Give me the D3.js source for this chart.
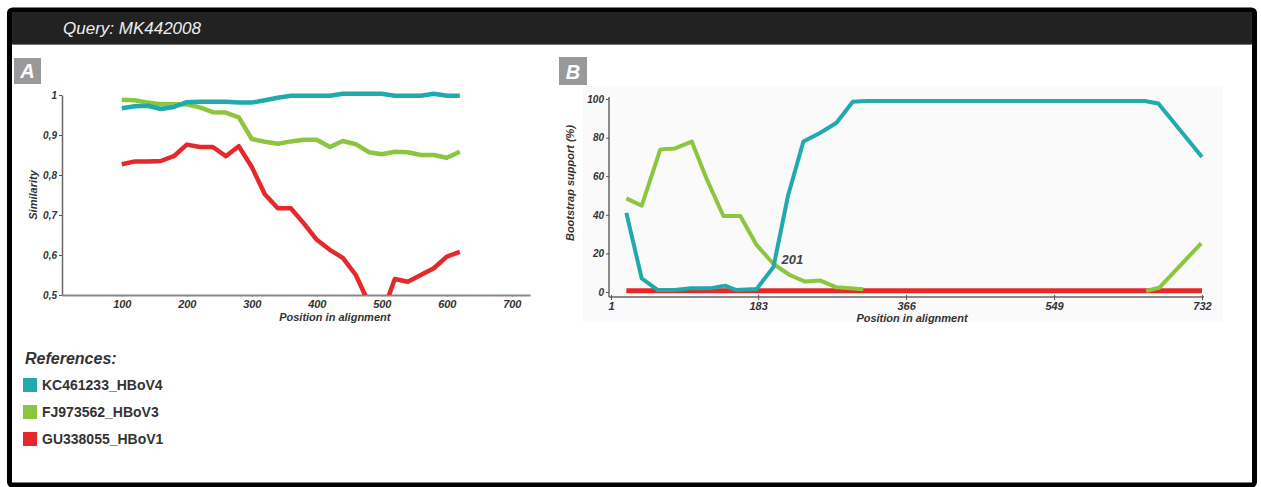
<!DOCTYPE html>
<html>
<head>
<meta charset="utf-8">
<script src="https://cdn.jsdelivr.net/npm/d3@7"></script>
<style>
  html, body { margin: 0; padding: 0; background: #fff; }
  svg { display: block; }
  text { font-family: "Liberation Sans", Arial, sans-serif; }
</style>
</head>
<body>
<svg id="fig" width="1261" height="487"></svg>
<script>
// ---- Panel A: similarity plot ----
const simPositions = [100, 120, 140, 160, 180, 200, 220, 240, 260, 280, 300, 320, 340, 360,
                      380, 400, 420, 440, 460, 480, 500, 520, 540, 560, 580, 600, 620];
const simHBoV4 = [0.967, 0.972, 0.973, 0.965, 0.970, 0.982, 0.983, 0.983, 0.983, 0.981, 0.981,
                  0.987, 0.993, 0.998, 0.998, 0.998, 0.998, 1.003, 1.003, 1.003, 1.003, 0.998,
                  0.998, 0.998, 1.003, 0.998, 0.998];
const simHBoV3 = [0.988, 0.987, 0.981, 0.977, 0.977, 0.977, 0.969, 0.957, 0.956, 0.944, 0.890,
                  0.883, 0.878, 0.884, 0.888, 0.888, 0.870, 0.885, 0.877, 0.857, 0.852, 0.858,
                  0.857, 0.850, 0.850, 0.843, 0.858];
const simHBoV1 = [0.827, 0.834, 0.834, 0.835, 0.847, 0.876, 0.870, 0.870, 0.847, 0.872, 0.820,
                  0.752, 0.717, 0.717, 0.679, 0.638, 0.613, 0.593, 0.550, 0.480, 0.450, 0.540,
                  0.533, 0.550, 0.567, 0.596, 0.608];
const simXTicks = [100, 200, 300, 400, 500, 600, 700];
const simYTicks = [0.5, 0.6, 0.7, 0.8, 0.9, 1];

// ---- Panel B: bootscan plot ----
const bootXTicks = [1, 183, 366, 549, 732];
const bootYTicks = [0, 20, 40, 60, 80, 100];
const bootHBoV4Pos = [20, 39, 59, 80, 100, 125, 142, 156, 181, 202, 220, 239, 260, 280, 300, 317, 661, 678, 732];
const bootHBoV4 =    [41, 7, 1, 1, 2, 2, 3.3, 1, 1.5, 13, 50, 78, 82.5, 87.7, 98.6, 99, 99, 97.7, 70];
const bootHBoV3Pos = [20, 39, 62, 80, 101, 119, 140, 161, 181, 202, 222, 241, 260, 280, 313, null, 663, 679, 731];
const bootHBoV3 =    [48.5, 44.7, 73.9, 74.4, 77.9, 58.9, 39.4, 39.4, 24.4, 14.5, 8.8, 5.4, 5.9, 2.4, 1.4, null, 0.5, 2.2, 25.2];
const bootHBoV1Pos = [20, 732];
const bootHBoV1 =    [0.6, 0.6];
const crossLabel = "201";

const refNames = ["KC461233_HBoV4", "FJ973562_HBoV3", "GU338055_HBoV1"];
const refColors = ["#21a9ab", "#8cc63f", "#e6282b"];

const svg = d3.select("#fig");

// Frame and header bar
svg.append("rect").attr("x", 9.5).attr("y", 10).attr("width", 1245).attr("height", 475)
  .attr("rx", 3).attr("fill", "#fff").attr("stroke", "#000").attr("stroke-width", 5);
svg.append("rect").attr("x", 12).attr("y", 12).attr("width", 1240).attr("height", 32).attr("fill", "#222");
svg.append("line").attr("x1", 12).attr("x2", 1252).attr("y1", 44.5).attr("y2", 44.5)
  .attr("stroke", "#777").attr("stroke-width", 1);
svg.append("text").attr("x", 63).attr("y", 34).attr("fill", "#eee")
  .attr("font-size", 17).attr("font-style", "italic").text("Query: MK442008");

// Panel letters
function panelTag(x, y, w, h, letter) {
  svg.append("rect").attr("x", x).attr("y", y).attr("width", w).attr("height", h).attr("fill", "#999");
  svg.append("text").attr("x", x + w / 2).attr("y", y + h - 6).attr("text-anchor", "middle")
    .attr("fill", "#fff").attr("font-size", 20).attr("font-weight", "bold").attr("font-style", "italic")
    .text(letter);
}
panelTag(14, 58, 27, 26, "A");
panelTag(559, 57, 28, 28, "B");

const axisText = sel => sel.selectAll("text")
  .attr("font-size", 11).attr("font-weight", "bold").attr("font-style", "italic").attr("fill", "#333");

// ===== Panel A =====
const xA = d3.scaleLinear().domain([8, 728]).range([62, 530]);
const yA = d3.scaleLinear().domain([0.5, 1]).range([295, 95]);

const gA = svg.append("g");
gA.append("g").attr("transform", "translate(0,295)")
  .call(d3.axisBottom(xA).tickValues(simXTicks).tickSize(2).tickPadding(3).tickSizeOuter(0))
  .call(g => g.select(".domain").attr("stroke", "#888").attr("stroke-width", 2))
  .call(g => g.selectAll(".tick line").attr("stroke", "#888"))
  .call(axisText);
gA.append("g").attr("transform", "translate(62,0)")
  .call(d3.axisLeft(yA).tickValues(simYTicks).tickSize(3).tickPadding(2).tickSizeOuter(0)
    .tickFormat(d => d === 1 ? "1" : d3.format(".1f")(d).replace(".", ",")))
  .call(g => g.select(".domain").attr("stroke", "#666").attr("stroke-width", 1.5))
  .call(g => g.selectAll(".tick line").attr("stroke", "#555"))
  .call(axisText)
  .call(g => g.selectAll("text").attr("font-size", 10));
gA.append("text").attr("x", xA(400) + 18).attr("y", 321).attr("text-anchor", "middle")
  .attr("font-size", 11).attr("font-weight", "bold").attr("font-style", "italic").attr("fill", "#333")
  .text("Position in alignment");
gA.append("text").attr("transform", "translate(37,195) rotate(-90)").attr("text-anchor", "middle")
  .attr("font-size", 11).attr("font-weight", "bold").attr("font-style", "italic").attr("fill", "#333")
  .text("Similarity");

svg.append("clipPath").attr("id", "clipA").append("rect")
  .attr("x", 40).attr("y", 70).attr("width", 520).attr("height", 225);

const lineA = d3.line().x((d, i) => xA(simPositions[i])).y(d => yA(d));
[simHBoV1, simHBoV3, simHBoV4].forEach((s, k) => {
  gA.append("path").datum(s).attr("d", lineA).attr("fill", "none")
    .attr("clip-path", "url(#clipA)")
    .attr("stroke", refColors[2 - k]).attr("stroke-width", 4.5).attr("stroke-linejoin", "round");
});

// ===== Panel B =====
const xB = d3.scaleLinear().domain([1, 732]).range([611, 1202]);
const yB = d3.scaleLinear().domain([0, 100]).range([292, 99]);

const gB = svg.append("g");
gB.append("rect").attr("x", 583).attr("y", 86).attr("width", 640).attr("height", 236).attr("fill", "#fafafa");
gB.append("g").attr("transform", "translate(0,297)")
  .call(d3.axisBottom(xB).tickValues(bootXTicks).tickSize(3).tickPadding(2).tickSizeOuter(0))
  .call(g => g.select(".domain").attr("d", "M609,0H1204").attr("stroke", "#666").attr("stroke-width", 1.5))
  .call(g => g.selectAll(".tick line").attr("stroke", "#555").attr("y1", -2))
  .call(axisText);
gB.append("g").attr("transform", "translate(609,0)")
  .call(d3.axisLeft(yB).tickValues(bootYTicks).tickSize(3).tickPadding(2).tickSizeOuter(0))
  .call(g => g.select(".domain").attr("d", "M0,97V297").attr("stroke", "#666").attr("stroke-width", 1.5))
  .call(g => g.selectAll(".tick line").attr("stroke", "#555"))
  .call(axisText)
  .call(g => g.selectAll("text").attr("font-size", 10));
gB.append("text").attr("x", 912).attr("y", 322).attr("text-anchor", "middle")
  .attr("font-size", 11).attr("font-weight", "bold").attr("font-style", "italic").attr("fill", "#333")
  .text("Position in alignment");
gB.append("text").attr("transform", "translate(574,183) rotate(-90)").attr("text-anchor", "middle")
  .attr("font-size", 11).attr("font-weight", "bold").attr("font-style", "italic").attr("fill", "#333")
  .text("Bootstrap support (%)");

function bootLine(pos, vals, color, width) {
  const pts = vals.map((v, i) => [pos[i], v]);
  const line = d3.line().defined(d => d[0] !== null && d[1] !== null)
    .x(d => xB(d[0])).y(d => yB(d[1]));
  gB.append("path").datum(pts).attr("d", line).attr("fill", "none")
    .attr("stroke", color).attr("stroke-width", width).attr("stroke-linejoin", "round");
}
bootLine(bootHBoV1Pos, bootHBoV1, refColors[2], 5);
bootLine(bootHBoV3Pos, bootHBoV3, refColors[1], 4);
bootLine(bootHBoV4Pos, bootHBoV4, refColors[0], 4);

gB.append("text").attr("x", xB(212)).attr("y", 264)
  .attr("font-size", 13).attr("font-weight", "bold").attr("font-style", "italic").attr("fill", "#444")
  .text(crossLabel);

// ===== Legend =====
const gL = svg.append("g");
gL.append("text").attr("x", 25).attr("y", 364).attr("font-size", 16)
  .attr("font-weight", "bold").attr("font-style", "italic").attr("fill", "#333").text("References:");
refNames.forEach((name, i) => {
  const y = 378 + i * 27;
  gL.append("rect").attr("x", 23).attr("y", y).attr("width", 14).attr("height", 14)
    .attr("fill", refColors[i]);
  gL.append("text").attr("x", 42).attr("y", y + 12).attr("font-size", 14)
    .attr("font-weight", "bold").attr("fill", "#333").text(name);
});
</script>
</body>
</html>
